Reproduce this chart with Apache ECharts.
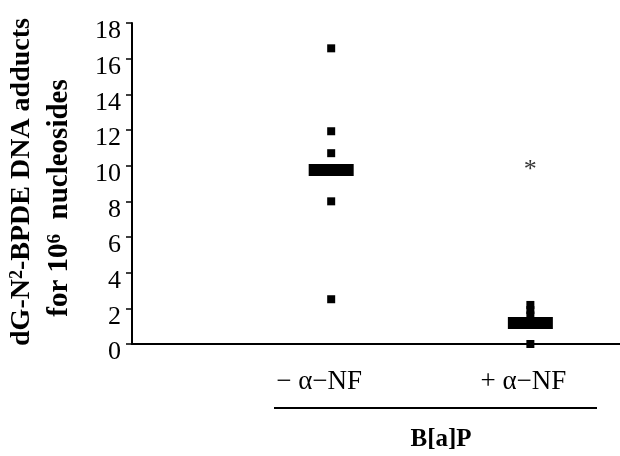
<!DOCTYPE html>
<html>
<head>
<meta charset="utf-8">
<script src="https://cdn.jsdelivr.net/npm/echarts@6/dist/echarts.min.js"></script>
<style>
  html, body { margin: 0; padding: 0; background: #fff; }
  #chart { width: 620px; height: 456px; }
</style>
</head>
<body>
<div id="chart"></div>
<script>
// groups on the x axis (1 = without, 2 = with alpha-naphthoflavone)
const groupLabels = ['\u2212 \u03b1\u2212NF', '+ \u03b1\u2212NF']
const yTicks = [0, 2, 4, 6, 8, 10, 12, 14, 16, 18]

// individual measurements
const minusNF = [16.58, 11.93, 10.70, 8.0, 2.51]
const plusNF = [2.19, 1.9, 1.6, 0]
// group means
const means = [9.76, 1.18]
// significance mark over the second group
const starValue = 10.1

const font = 'Liberation Serif'

const chart = echarts.init(document.getElementById('chart'))

const dot = { color: '#000', opacity: 1 }

const option = {
  backgroundColor: '#fff',
  animation: false,
  grid: { left: 132, right: 0, top: 23, bottom: 112 },
  xAxis: {
    type: 'value',
    min: 0,
    max: 2.45,
    interval: 1,
    axisLine: { lineStyle: { color: '#000', width: 2 } },
    axisTick: { show: false },
    splitLine: { show: false },
    axisLabel: {
      margin: 24,
      showMinLabel: false,
      showMaxLabel: false,
      formatter: (v) => {
        if (v === 1) return '{a|' + groupLabels[0] + '}'
        if (v === 2) return '{b|' + groupLabels[1] + '}'
        return ''
      },
      rich: {
        a: { fontFamily: font, fontSize: 27, color: '#000', padding: [0, 24, 0, 0] },
        b: { fontFamily: font, fontSize: 27, color: '#000', padding: [0, 14, 0, 0] }
      }
    }
  },
  yAxis: {
    type: 'value',
    min: 0,
    max: 18,
    interval: 2,
    axisLine: { show: true, lineStyle: { color: '#000', width: 2 } },
    axisTick: { show: true, length: 6, lineStyle: { color: '#000', width: 1.5 } },
    splitLine: { show: false },
    axisLabel: {
      color: '#000',
      fontFamily: font,
      fontSize: 26,
      margin: 11,
      verticalAlign: 'top',
      lineHeight: 17,
      formatter: (v) => (yTicks.includes(v) ? String(v) : '')
    }
  },
  series: [
    {
      type: 'scatter',
      symbol: 'rect',
      symbolSize: 8,
      itemStyle: dot,
      data: minusNF.map((v) => [1, v])
    },
    {
      type: 'scatter',
      symbol: 'rect',
      symbolSize: 8,
      itemStyle: dot,
      data: plusNF.map((v) => [2, v])
    },
    {
      type: 'scatter',
      symbol: 'rect',
      symbolSize: [45, 12],
      itemStyle: dot,
      data: means.map((v, i) => [i + 1, v])
    },
    {
      type: 'scatter',
      symbolSize: 0,
      data: [[2, starValue]],
      label: {
        show: true,
        position: 'inside',
        formatter: '*',
        fontFamily: font,
        fontSize: 26,
        color: '#000',
        offset: [0, 6]
      }
    }
  ],
  graphic: [
    {
      type: 'text',
      x: 22, y: 182,
      rotation: Math.PI / 2,
      style: {
        text: '{t|dG-N}{s|2}{t|-BPDE DNA adducts}',
        align: 'center',
        verticalAlign: 'middle',
        rich: {
          t: { fontFamily: font, fontSize: 28, fontWeight: 'bold', fill: '#000' },
          s: { fontFamily: font, fontSize: 18, fontWeight: 'bold', fill: '#000', padding: [0, 0, 10, 0] }
        }
      }
    },
    {
      type: 'text',
      x: 60, y: 198,
      rotation: Math.PI / 2,
      style: {
        text: '{t|for 10}{s|6}{t|  nucleosides}',
        align: 'center',
        verticalAlign: 'middle',
        rich: {
          t: { fontFamily: font, fontSize: 29, fontWeight: 'bold', fill: '#000' },
          s: { fontFamily: font, fontSize: 19, fontWeight: 'bold', fill: '#000', padding: [0, 0, 10, 0] }
        }
      }
    },
    {
      type: 'line',
      shape: { x1: 274, y1: 408, x2: 597, y2: 408 },
      style: { stroke: '#000', lineWidth: 2 }
    },
    {
      type: 'text',
      x: 441, y: 440,
      style: {
        text: 'B[a]P',
        fontFamily: font,
        fontSize: 25,
        fontWeight: 'bold',
        fill: '#000',
        align: 'center',
        verticalAlign: 'middle'
      }
    }
  ]
}

chart.setOption(option)
</script>
</body>
</html>
